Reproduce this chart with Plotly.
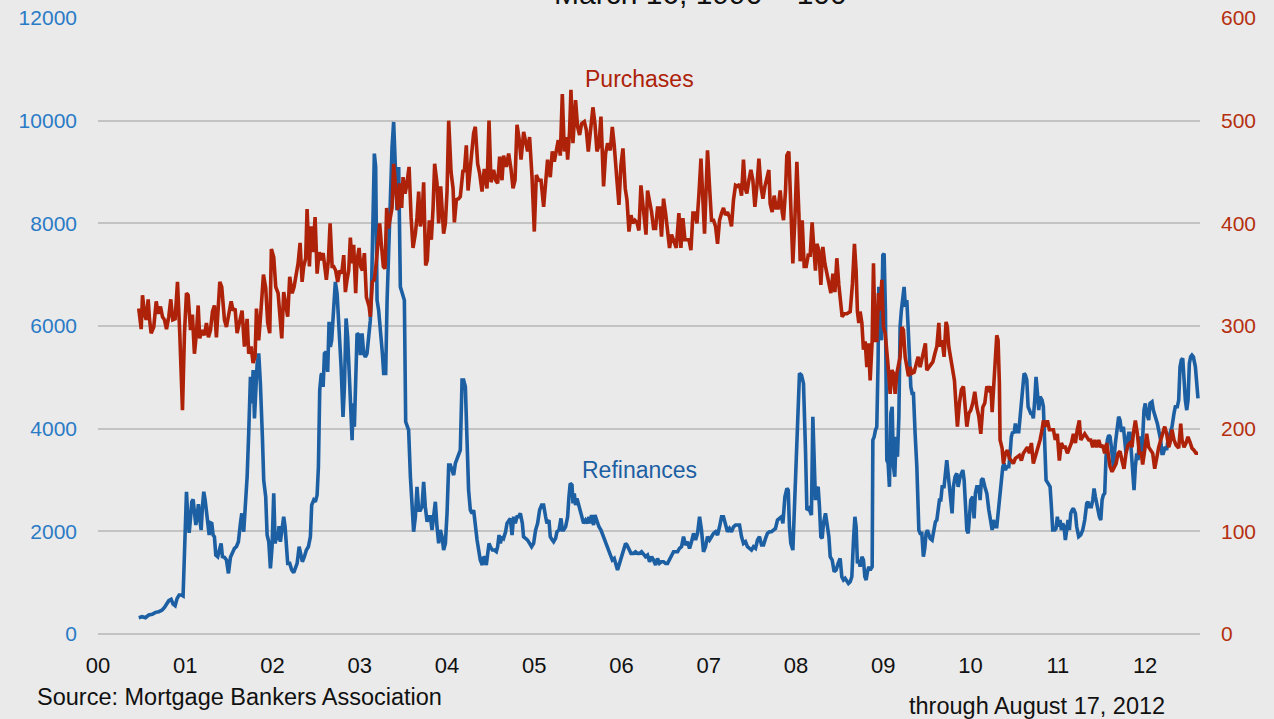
import plotly.graph_objects as go

# x values are years since 2000 (tick "00" = Jan 2000)
pur_t = [.467,.495,.510,.533,.552,.575,.590,.609,.639,.667,.689,.716,.739,.762,.785,.811,.834,.857,.884,.911,.937,.968,.991,
1.014,1.033,1.060,1.082,1.105,1.128,1.148,1.166,1.193,1.220,1.243,1.266,1.289,1.312,1.334,1.357,1.377,1.396,1.418,1.449,1.472,1.495,1.526,1.548,1.571,1.594,1.624,1.651,1.678,1.709,1.727,1.755,1.777,1.800,1.816,1.842,1.865,1.896,1.922,1.945,1.968,1.987,
2.014,2.037,2.064,2.083,2.106,2.128,2.151,2.174,2.197,2.225,2.247,2.274,2.293,2.316,2.339,2.357,2.380,2.396,2.423,2.442,2.465,2.488,2.511,2.534,2.557,2.580,2.598,2.617,2.640,2.660,2.683,2.701,2.724,2.747,2.770,2.793,2.816,2.835,2.854,2.873,2.892,2.912,2.930,2.953,2.969,2.992,
3.010,3.030,3.053,3.076,3.107,3.121,3.144,3.167,3.190,3.210,3.228,3.247,3.270,3.290,3.308,3.328,3.351,3.370,3.388,3.408,3.434,3.457,3.480,3.496,3.519,3.537,3.565,3.588,3.610,3.637,3.656,3.675,3.694,3.713,3.732,3.755,3.774,3.797,3.820,3.840,3.858,3.885,3.904,3.927,3.943,3.961,3.981,
4.000,4.019,4.046,4.069,4.084,4.107,4.133,4.152,4.183,4.198,4.221,4.241,4.259,4.286,4.305,4.324,4.351,4.373,4.401,4.427,4.458,4.481,4.504,4.534,4.557,4.580,4.603,4.630,4.648,4.679,4.706,4.733,4.756,4.779,4.802,4.825,4.848,4.878,4.901,4.923,4.946,4.974,
5.000,5.023,5.049,5.077,5.107,5.130,5.152,5.183,5.206,5.229,5.252,5.275,5.298,5.321,5.344,5.367,5.382,5.404,5.420,5.443,5.473,5.496,5.519,5.542,5.573,5.596,5.619,5.649,5.672,5.695,5.718,5.741,5.764,5.794,5.817,5.840,5.871,5.894,5.916,5.947,5.970,5.993,
6.016,6.042,6.062,6.085,6.108,6.130,6.153,6.176,6.199,6.222,6.252,6.280,6.298,6.321,6.344,6.367,6.390,6.412,6.435,6.458,6.481,6.504,6.527,6.550,6.573,6.596,6.627,6.657,6.680,6.703,6.726,6.749,6.772,6.795,6.818,6.841,6.864,6.887,6.910,6.932,6.951,6.970,6.985,
7.008,7.031,7.054,7.077,7.100,7.123,7.146,7.168,7.191,7.214,7.237,7.260,7.283,7.306,7.329,7.352,7.375,7.397,7.417,7.436,7.459,7.482,7.505,7.528,7.551,7.574,7.597,7.620,7.643,7.665,7.688,7.703,7.726,7.749,7.772,7.795,7.818,7.841,7.856,7.879,7.894,7.917,7.940,7.963,7.986,
8.009,8.032,8.047,8.070,8.093,8.116,8.139,8.162,8.184,8.200,8.222,8.238,8.261,8.284,8.307,8.330,8.353,8.376,8.399,8.422,8.445,8.467,8.490,8.528,8.551,8.582,8.620,8.646,8.669,8.688,8.703,8.719,8.734,8.754,8.772,8.792,8.811,8.830,8.849,8.872,8.887,8.906,8.925,8.944,8.963,8.983,
9.001,9.021,9.040,9.059,9.078,9.097,9.116,9.135,9.155,9.173,9.192,9.212,9.230,9.250,9.269,9.288,9.307,9.330,9.353,9.376,9.399,9.422,9.444,9.467,9.482,9.498,9.521,9.544,9.567,9.590,9.613,9.636,9.651,9.674,9.696,9.719,9.734,9.750,9.773,9.796,9.815,9.834,9.849,9.872,9.895,9.918,9.941,9.957,9.980,
10.002,10.025,10.048,10.071,10.094,10.117,10.140,10.163,10.186,10.209,10.232,10.247,10.270,10.284,10.300,10.315,10.330,10.338,10.361,10.376,10.399,10.422,10.445,10.467,10.490,10.513,10.536,10.559,10.582,10.605,10.628,10.651,10.674,10.697,10.719,10.742,10.758,10.781,10.796,10.819,10.834,10.857,10.880,10.903,10.926,10.949,10.971,10.994,
11.017,11.040,11.063,11.086,11.109,11.132,11.155,11.178,11.201,11.223,11.246,11.262,11.285,11.308,11.331,11.354,11.377,11.400,11.423,11.446,11.469,11.492,11.514,11.537,11.560,11.583,11.598,11.621,11.644,11.667,11.690,11.713,11.735,11.758,11.781,11.804,11.827,11.850,11.865,11.888,11.911,11.934,11.957,11.972,11.995,
12.018,12.041,12.064,12.087,12.110,12.133,12.156,12.179,12.202,12.225,12.247,12.270,12.285,12.308,12.331,12.354,12.385,12.408,12.423,12.446,12.469,12.491,12.514,12.537,12.560,12.583,12.606]

pur_v = [317,297,330,312,306,326,307,293,299,324,312,319,309,306,297,309,326,306,307,343,293,218,293,
332,330,296,311,273,293,320,288,296,291,303,289,296,314,320,289,319,343,338,306,299,312,324,315,317,293,306,315,280,307,273,280,264,270,317,286,312,350,337,303,293,375,
367,338,332,306,288,333,319,309,348,332,338,354,361,381,343,358,366,414,358,397,372,406,351,372,364,371,356,345,364,400,358,358,354,343,354,351,369,333,345,354,386,361,379,332,364,376,
358,354,371,328,319,309,343,345,363,382,400,380,358,356,415,395,406,415,458,440,413,439,415,445,429,437,455,406,376,390,406,431,397,405,440,359,364,403,384,415,458,439,400,436,416,390,400,
431,500,450,434,401,423,424,426,452,450,476,432,447,471,488,494,458,449,431,453,434,500,440,452,442,439,465,442,466,455,468,453,434,442,496,483,462,489,478,470,484,445,
392,447,442,442,416,442,462,445,470,460,473,481,466,526,470,484,462,489,530,478,520,494,486,497,499,491,470,494,513,497,470,476,504,436,468,478,471,494,476,442,418,457,
473,434,423,392,408,400,403,401,393,437,410,389,432,423,411,395,395,415,415,387,424,410,389,376,389,384,376,410,376,405,384,384,384,374,410,410,400,429,463,423,390,436,471,
436,403,403,397,380,403,410,415,408,411,406,397,423,437,436,438,427,462,434,429,442,452,442,416,436,463,436,424,436,445,452,419,411,427,415,415,432,411,403,432,466,470,416,361,403,
460,410,363,403,358,358,369,369,401,380,354,380,374,340,377,361,351,338,332,351,333,366,340,309,312,312,314,341,380,354,314,303,314,303,277,285,260,283,247,286,361,286,286,332,315,345,
299,293,277,257,234,257,254,234,254,264,270,299,296,270,257,251,260,254,255,264,270,260,270,280,283,257,260,262,265,273,280,303,280,286,270,304,299,280,267,252,247,221,202,225,238,241,212,202,215,
218,225,236,221,212,195,221,225,241,238,241,216,254,273,291,286,244,189,181,166,176,179,171,169,166,171,173,174,169,176,179,182,176,186,166,173,176,182,189,199,208,202,208,199,199,199,189,195,
169,186,182,182,176,182,186,195,186,199,208,189,192,195,192,189,189,182,189,182,189,182,184,176,186,169,163,158,163,166,176,178,169,161,176,184,186,182,195,208,195,176,176,165,179,
195,182,179,176,161,173,182,189,195,202,195,182,186,199,189,184,181,205,189,182,186,192,187,181,179,176,176]

ref_t = [.467,.506,.544,.582,.621,.659,.697,.735,.762,.785,.811,.838,.861,.884,.907,.930,.956,.975,.991,
1.014,1.029,1.045,1.060,1.075,1.090,1.105,1.121,1.136,1.151,1.166,1.182,1.197,1.212,1.228,1.243,1.258,1.274,1.289,1.304,1.319,1.334,1.350,1.372,1.396,1.411,1.426,1.449,1.472,1.495,1.518,1.541,1.564,1.586,1.609,1.632,1.648,1.670,1.686,1.709,1.727,1.747,1.762,1.778,1.793,1.808,1.824,1.842,1.861,1.884,1.899,1.922,1.938,1.957,1.976,1.995,
2.014,2.030,2.045,2.060,2.075,2.090,2.110,2.128,2.144,2.159,2.174,2.197,2.220,2.243,2.266,2.282,2.305,2.320,2.342,2.365,2.388,2.411,2.434,2.449,2.472,2.491,2.511,2.526,2.541,2.557,2.564,2.580,2.595,2.614,2.632,2.648,2.663,2.678,2.701,2.720,2.740,2.755,2.770,2.786,2.808,2.824,2.843,2.861,2.884,2.912,2.923,2.938,2.969,2.992,
3.007,3.026,3.045,3.064,3.083,3.102,3.121,3.136,3.152,3.167,3.182,3.198,3.216,3.236,3.259,3.274,3.297,3.313,3.331,3.351,3.370,3.388,3.408,3.427,3.446,3.465,3.488,3.511,3.526,3.560,3.580,3.599,3.617,3.637,3.656,3.675,3.694,3.713,3.732,3.751,3.771,3.789,3.809,3.828,3.846,3.866,3.885,3.904,3.923,3.943,3.961,3.981,
4.000,4.019,4.038,4.057,4.076,4.095,4.115,4.133,4.152,4.172,4.190,4.210,4.229,4.247,4.267,4.286,4.305,4.344,4.381,4.404,4.419,4.435,4.450,4.465,4.481,4.496,4.519,4.542,4.565,4.580,4.596,4.611,4.630,4.648,4.671,4.687,4.706,4.725,4.745,4.763,4.782,4.802,4.820,4.840,4.863,4.877,4.900,4.923,4.946,4.969,4.992,
5.015,5.038,5.061,5.084,5.107,5.130,5.145,5.168,5.183,5.206,5.221,5.244,5.260,5.283,5.306,5.321,5.336,5.359,5.382,5.397,5.412,5.432,5.443,5.458,5.473,5.489,5.504,5.519,5.542,5.565,5.588,5.611,5.627,5.642,5.656,5.679,5.695,5.718,5.741,5.764,5.779,5.802,5.825,5.848,5.871,5.894,5.916,5.939,5.954,5.977,
6.000,6.023,6.046,6.062,6.085,6.108,6.137,6.160,6.183,6.206,6.229,6.252,6.275,6.298,6.321,6.344,6.367,6.390,6.412,6.435,6.458,6.481,6.504,6.527,6.550,6.573,6.596,6.619,6.642,6.664,6.687,6.710,6.733,6.756,6.779,6.802,6.825,6.848,6.871,6.894,6.916,6.939,6.962,6.985,
7.008,7.031,7.054,7.077,7.100,7.123,7.146,7.168,7.191,7.214,7.237,7.260,7.283,7.306,7.329,7.352,7.375,7.397,7.420,7.443,7.466,7.489,7.512,7.535,7.558,7.581,7.604,7.627,7.650,7.672,7.695,7.718,7.741,7.764,7.787,7.810,7.833,7.849,7.872,7.895,7.910,7.924,7.940,7.963,7.986,
8.001,8.024,8.039,8.062,8.085,8.108,8.124,8.147,8.162,8.176,8.192,8.207,8.222,8.238,8.253,8.268,8.284,8.299,8.314,8.337,8.353,8.376,8.391,8.414,8.436,8.459,8.482,8.505,8.524,8.543,8.562,8.582,8.600,8.620,8.639,8.658,8.674,8.688,8.703,8.719,8.734,8.754,8.772,8.788,8.803,8.818,8.834,8.849,8.872,8.880,8.895,8.910,8.925,8.940,8.948,8.963,8.978,8.994,
9.009,9.024,9.040,9.055,9.070,9.086,9.101,9.116,9.131,9.146,9.162,9.178,9.192,9.207,9.223,9.238,9.253,9.269,9.284,9.299,9.315,9.330,9.345,9.364,9.384,9.407,9.422,9.441,9.459,9.475,9.490,9.505,9.521,9.536,9.559,9.574,9.597,9.613,9.631,9.643,9.659,9.674,9.696,9.711,9.727,9.742,9.757,9.773,9.788,9.803,9.822,9.842,9.857,9.880,9.895,9.911,9.926,9.941,9.957,9.972,9.986,
10.002,10.025,10.040,10.055,10.071,10.094,10.109,10.124,10.140,10.163,10.186,10.209,10.232,10.247,10.261,10.284,10.300,10.315,10.338,10.353,10.369,10.384,10.399,10.415,10.438,10.453,10.467,10.483,10.498,10.513,10.529,10.552,10.567,10.582,10.598,10.613,10.628,10.644,10.659,10.674,10.690,10.705,10.719,10.735,10.750,10.765,10.781,10.796,10.819,10.834,10.850,10.865,10.888,10.911,10.926,10.941,10.964,10.979,10.994,
11.010,11.025,11.040,11.055,11.071,11.086,11.102,11.117,11.132,11.148,11.163,11.178,11.201,11.216,11.239,11.262,11.285,11.308,11.331,11.346,11.361,11.384,11.400,11.415,11.430,11.446,11.461,11.476,11.492,11.507,11.521,11.537,11.552,11.567,11.583,11.598,11.613,11.636,11.659,11.682,11.697,11.713,11.728,11.751,11.766,11.781,11.796,11.812,11.827,11.842,11.858,11.873,11.888,11.904,11.919,11.934,11.950,11.964,11.987,
12.002,12.018,12.041,12.056,12.079,12.094,12.117,12.140,12.163,12.178,12.193,12.208,12.231,12.247,12.262,12.285,12.308,12.331,12.346,12.369,12.385,12.400,12.415,12.431,12.446,12.461,12.477,12.492,12.507,12.522,12.537,12.553,12.576,12.591,12.606]

ref_v = [318,337,318,370,383,422,435,467,519,597,649,675,584,552,694,759,759,740,1505,
2771,2284,1973,2252,2576,2622,2427,2122,2284,2531,2252,2025,2479,2771,2609,2414,2220,1928,2168,2155,1928,1895,1538,1505,1668,1765,1505,1493,1441,1181,1493,1571,1668,1700,1797,2155,2350,1992,2414,3063,3908,5010,4492,5140,4200,4686,5271,5465,4881,3841,2998,2673,1928,1797,1279,1700,
2739,1765,1895,1830,2103,1797,2089,2284,2089,1635,1376,1376,1246,1194,1279,1376,1700,1603,1408,1505,1635,1700,1895,2512,2609,2576,2706,3257,4751,5043,5076,4815,5465,5496,5107,6081,5594,5724,6373,6859,6633,6244,5854,5204,4231,4815,6147,5789,4881,3777,4492,4036,5854,5822,
5432,5854,5465,5399,5465,5854,6114,6828,8450,9359,9098,6503,6308,5983,5465,5076,5076,6503,7476,8580,9488,9975,9098,8255,9098,6762,6633,6503,4134,3972,3063,2545,1992,2284,2868,2414,2414,2479,2965,2479,2187,2284,2284,2025,2284,2576,2089,1765,2025,1895,1635,1765,
2350,3290,3290,3193,3096,3323,3421,3518,3582,4945,4945,4815,3713,2804,2414,2350,2414,1830,1441,1343,1505,1473,1343,1635,1765,1700,1635,1635,1603,1700,1928,1765,1895,1863,1992,2155,2220,2252,1928,2284,2155,2284,2284,2350,2155,1895,1863,1830,1765,1700,1765,
2025,2155,2414,2512,2512,2284,2155,2220,1895,1830,1797,1863,1992,2025,2252,2025,2025,2089,2284,2673,2934,2901,2545,2739,2512,2642,2545,2414,2252,2155,2220,2155,2284,2155,2317,2122,2317,2187,2089,2025,1961,1863,1765,1635,1571,1441,1473,1310,1246,1376,
1505,1635,1765,1733,1668,1571,1571,1603,1571,1571,1603,1538,1505,1538,1408,1505,1441,1343,1473,1376,1408,1408,1376,1376,1441,1538,1603,1603,1603,1668,1700,1895,1733,1797,1668,1797,1961,1830,1961,2284,2025,1603,1700,1895,
1830,1895,1961,1992,1928,2089,2284,2284,2155,1992,2057,1992,2089,2122,2122,2122,1895,1765,1797,1700,1668,1635,1700,1668,1830,1895,1733,1733,1863,1961,1992,1992,2025,2057,2220,2252,2284,2155,2673,2836,2804,2089,1765,1635,2609,
3582,4556,5076,5043,4881,3582,2414,2447,2381,2317,4231,3452,2609,2804,2868,2479,1895,1863,2155,2350,2155,1895,1505,1441,1213,1246,1376,1473,1116,1051,1084,1018,986,1018,1116,1830,2284,2089,1376,1441,1310,1505,1441,1116,1051,1213,1310,1246,1310,3777,3841,3972,4036,5335,6762,5854,5724,7379,
7412,6308,3388,3323,2868,4297,4426,3257,3063,3841,3452,4231,5983,6308,6633,6762,6373,6503,5983,5204,4815,4686,4686,3908,3257,2025,1961,1961,1505,1668,1961,2025,1961,1863,1830,1961,2187,2220,2479,2609,2609,2868,2868,3129,3388,3129,2868,2609,2350,2868,3063,3129,2868,3063,3129,3193,2998,2479,2025,1961,2220,
2609,2673,2252,2739,2868,2868,2609,2998,3031,2868,2739,2414,2155,2025,2220,2089,2089,2350,2673,2934,3257,3323,3193,3257,3257,3518,3841,3939,3908,4102,3939,3939,4231,4556,4945,5076,5043,4945,4426,4361,4297,4297,4200,4556,5010,4718,4361,4621,4556,4426,3777,2998,2934,2868,2479,2025,2025,2057,2284,
2089,2220,2025,2155,2089,1830,2025,2220,2025,2350,2414,2447,2350,2089,1895,1928,2025,2220,2545,2576,2479,2479,2609,2836,2673,2545,2350,2284,2220,2609,2706,2739,3452,3777,3874,3841,3647,3257,3713,4036,4231,4167,3939,4036,3841,3518,3777,3908,3908,3518,3257,2804,3257,3518,3388,3841,3777,3518,4361,
4492,4297,4167,4492,4523,4361,4231,4102,3908,3777,3518,3518,3647,3582,3777,3908,4036,4297,4426,4426,4556,5204,5335,5368,4881,4556,4361,4556,5271,5399,5432,5399,5204,4945,4589]

x_tick_vals = list(range(0, 13))
x_tick_text = ["00","01","02","03","04","05","06","07","08","09","10","11","12"]
left_ticks = [0, 2000, 4000, 6000, 8000, 10000, 12000]
left_text = ["0", "2000", "4000", "6000", "8000", "10000", "12000"]
right_ticks = [0, 100, 200, 300, 400, 500, 600]
right_text = ["0", "100", "200", "300", "400", "500", "600"]

BLUE = "#1d5fa3"
RED = "#ad2208"
FONT = "Liberation Sans, Arial, sans-serif"

fig = go.Figure()
fig.add_trace(go.Scatter(x=ref_t, y=ref_v, mode="lines", name="Refinances",
                         line=dict(color=BLUE, width=3.6), yaxis="y"))
fig.add_trace(go.Scatter(x=pur_t, y=pur_v, mode="lines", name="Purchases",
                         line=dict(color=RED, width=3.6), yaxis="y2"))

fig.update_layout(
    width=1274, height=719,
    margin=dict(l=98, r=74, t=18, b=85, autoexpand=False),
    paper_bgcolor="#eaeaea", plot_bgcolor="#eaeaea",
    showlegend=False,
    font=dict(family=FONT, size=22, color="#111111"),
    xaxis=dict(range=[0, 12.629], tickmode="array", tickvals=x_tick_vals, ticktext=x_tick_text,
               showgrid=False, zeroline=False, showline=False, ticks="", automargin=False,
               ticklabelstandoff=16, tickfont=dict(size=22, color="#111111")),
    yaxis=dict(range=[0, 12000], tickmode="array", tickvals=left_ticks, ticktext=left_text,
               showgrid=True, gridcolor="#c3c3c3", gridwidth=2, automargin=False,
               zeroline=True, zerolinecolor="#c3c3c3", zerolinewidth=2,
               showline=False, ticks="", ticklabelstandoff=20,
               tickfont=dict(size=21, color="#2a7bc6")),
    yaxis2=dict(range=[0, 600], tickmode="array", tickvals=right_ticks, ticktext=right_text,
                overlaying="y", side="right", automargin=False,
                showgrid=False, zeroline=False, showline=False, ticks="", ticklabelstandoff=20,
                tickfont=dict(size=21, color="#b5300f")),
    annotations=[
        dict(text="March 16, 1990 = 100", x=0.547, y=1.040, xref="paper", yref="paper",
             showarrow=False, font=dict(size=30, color="#111111"), xanchor="center", yanchor="middle"),
        dict(text="Purchases", x=0.4918, y=0.901, xref="paper", yref="paper", showarrow=False,
             font=dict(size=23, color=RED), xanchor="center", yanchor="middle"),
        dict(text="Refinances", x=0.4918, y=0.266, xref="paper", yref="paper", showarrow=False,
             font=dict(size=23, color=BLUE), xanchor="center", yanchor="middle"),
        dict(text="Source: Mortgage Bankers Association", x=-0.0572, y=-0.1023, xref="paper", yref="paper",
             showarrow=False, font=dict(size=23.5, color="#111111"), xanchor="left", yanchor="middle"),
        dict(text="through August 17, 2012", x=0.970, y=-0.117, xref="paper", yref="paper",
             showarrow=False, font=dict(size=23.5, color="#111111"), xanchor="right", yanchor="middle"),
    ],
)

fig.write_html("out.html",
               config={"displayModeBar": False},
               post_script="document.body.style.margin='0';document.body.style.padding='0';"
                           "document.body.style.overflow='hidden';")
